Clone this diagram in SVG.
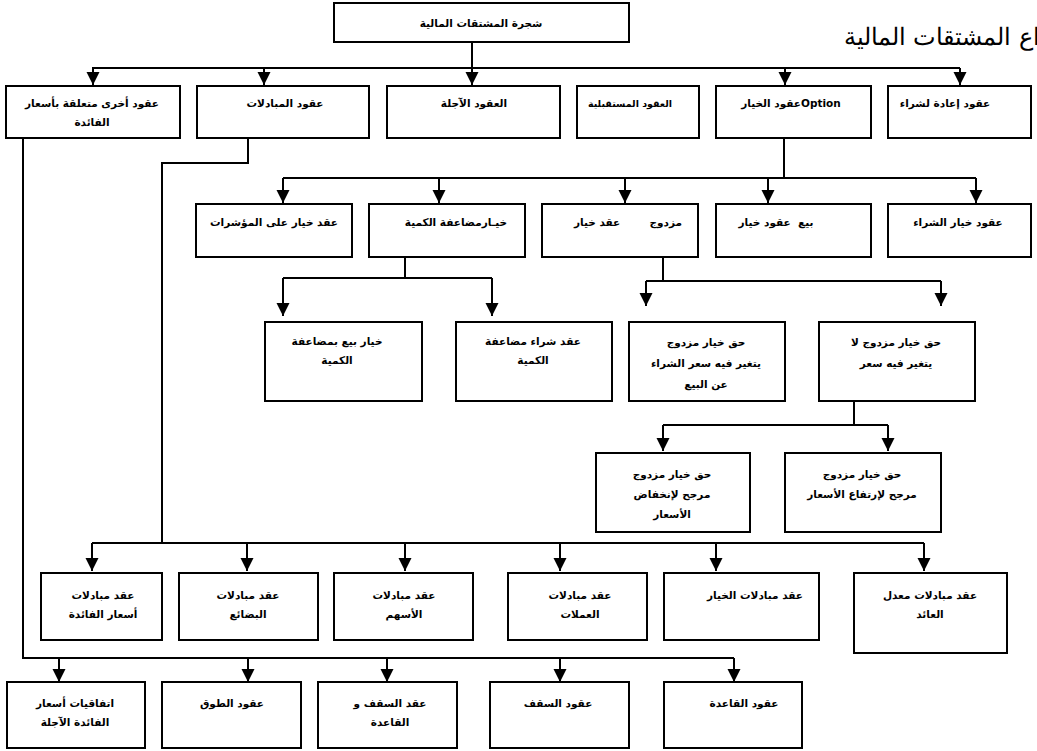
<svg xmlns="http://www.w3.org/2000/svg" width="1037" height="751" viewBox="0 0 1037 751">
<defs>
<marker id="ah" viewBox="0 0 10 10" markerUnits="userSpaceOnUse" markerWidth="13" markerHeight="14" refX="10" refY="5" orient="auto"><path d="M0,0 L10,5 L0,10 z" fill="#000"/></marker>
<style>
.b{fill:#fff;stroke:#000;stroke-width:2}
.t{font-family:"DejaVu Sans","Noto Sans",sans-serif;font-weight:bold;font-size:10.5px;fill:#000;text-anchor:middle;direction:rtl;unicode-bidi:embed}
.c{fill:none;stroke:#000;stroke-width:2}
.a{fill:none;stroke:#000;stroke-width:2;marker-end:url(#ah)}
.h{font-family:"DejaVu Serif","Liberation Serif",serif;font-size:24px;fill:#000;direction:rtl;unicode-bidi:embed}
</style>
</defs>
<rect width="1037" height="751" fill="#fff"/>
<text class="h" x="1066" y="45" text-anchor="start">أنواع المشتقات المالية</text>
<g id="connectors">
<path class="c" d="M92,68 H960"/>
<path class="a" d="M472,42 V85"/>
<path class="a" d="M93,68 V85"/>
<path class="a" d="M264,68 V85"/>
<path class="a" d="M785,68 V85"/>
<path class="a" d="M960,68 V85"/>
<path class="c" d="M784,137 V178 M283,178 H976"/>
<path class="a" d="M283,178 V203"/>
<path class="a" d="M439,178 V203"/>
<path class="a" d="M625,178 V203"/>
<path class="a" d="M768,178 V203"/>
<path class="a" d="M976,178 V203"/>
<path class="c" d="M405,257 V278 M283,278 H492"/>
<path class="a" d="M283,278 V316"/>
<path class="a" d="M492,278 V316"/>
<path class="c" d="M663,257 V281 M646,281 H941"/>
<path class="a" d="M646,281 V306"/>
<path class="a" d="M941,281 V306"/>
<path class="c" d="M854,401 V425 M663,425 H888"/>
<path class="a" d="M663,425 V451"/>
<path class="a" d="M888,425 V451"/>
<path class="c" d="M248,138 V163 H162 V543 M92,543 H924"/>
<path class="a" d="M92,543 V571"/>
<path class="a" d="M247,543 V571"/>
<path class="a" d="M405,543 V571"/>
<path class="a" d="M560,543 V571"/>
<path class="a" d="M716,543 V571"/>
<path class="a" d="M924,543 V571"/>
<path class="c" d="M23,138 V658 H734"/>
<path class="a" d="M59,658 V682"/>
<path class="a" d="M248,658 V682"/>
<path class="a" d="M387,658 V682"/>
<path class="a" d="M560,658 V682"/>
<path class="a" d="M734,658 V682"/>
</g>
<g id="root"><rect class="b" x="334" y="3" width="295" height="39"/><text class="t" x="481" y="27">شجرة المشتقات المالية</text></g>
<g id="n-other"><rect class="b" x="6" y="86" width="174" height="52"/><text class="t" x="92" y="107">عقود أخرى متعلقة بأسعار</text><text class="t" x="92" y="126">الفائدة</text></g>
<g id="n-swaps"><rect class="b" x="197" y="86" width="172" height="52"/><text class="t" x="285" y="107">عقود المبادلات</text></g>
<g id="n-forward"><rect class="b" x="387" y="86" width="173" height="52"/><text class="t" x="474" y="107">العقود الآجلة</text></g>
<g id="n-futures"><rect class="b" x="577" y="86" width="122" height="52"/><text class="t" x="630" y="107" style="font-size:9.5px">العقود المستقبلية</text></g>
<g id="n-option"><rect class="b" x="716" y="86" width="155" height="52"/><text class="t" x="791" y="107">Optionعقود الخيار</text></g>
<g id="n-repo"><rect class="b" x="888" y="86" width="143" height="52"/><text class="t" x="945" y="107">عقود إعادة لشراء</text></g>
<g id="n-index"><rect class="b" x="196" y="204" width="156" height="53"/><text class="t" x="274" y="226">عقد خيار على المؤشرات</text></g>
<g id="n-mult"><rect class="b" x="369" y="204" width="156" height="53"/><text class="t" x="456" y="226">خيـارمضاعفة الكمية</text></g>
<g id="n-double"><rect class="b" x="542" y="204" width="156" height="53"/><text class="t" x="628" y="226" xml:space="preserve">مزدوج        عقد خيار</text></g>
<g id="n-put"><rect class="b" x="716" y="204" width="155" height="53"/><text class="t" x="776" y="226" xml:space="preserve">بيع  عقود خيار</text></g>
<g id="n-call"><rect class="b" x="888" y="204" width="143" height="53"/><text class="t" x="958" y="226">عقود خيار الشراء</text></g>
<g id="n-multput"><rect class="b" x="265" y="322" width="157" height="79"/><text class="t" x="337" y="345">خيار بيع بمضاعفة</text><text class="t" x="337" y="364">الكمية</text></g>
<g id="n-multcall"><rect class="b" x="456" y="322" width="156" height="79"/><text class="t" x="533" y="345">عقد شراء مضاعفة</text><text class="t" x="533" y="364">الكمية</text></g>
<g id="n-dvar"><rect class="b" x="629" y="322" width="156" height="79"/><text class="t" x="706" y="346">حق خيار مزدوج</text><text class="t" x="706" y="367">يتغير فيه سعر الشراء</text><text class="t" x="706" y="388">عن البيع</text></g>
<g id="n-dfix"><rect class="b" x="819" y="322" width="156" height="79"/><text class="t" x="896" y="346">حق خيار مزدوج لا</text><text class="t" x="896" y="367">يتغير فيه سعر</text></g>
<g id="n-ddown"><rect class="b" x="596" y="453" width="154" height="79"/><text class="t" x="672" y="478">حق خيار مزدوج</text><text class="t" x="672" y="498">مرجح لإنخفاض</text><text class="t" x="672" y="518">الأسعار</text></g>
<g id="n-dup"><rect class="b" x="785" y="453" width="156" height="79"/><text class="t" x="862" y="478">حق خيار مزدوج</text><text class="t" x="862" y="498">مرجح لإرتفاع الأسعار</text></g>
<g id="n-irs"><rect class="b" x="41" y="573" width="121" height="67"/><text class="t" x="103" y="599">عقد مبادلات</text><text class="t" x="103" y="618">أسعار الفائدة</text></g>
<g id="n-comm"><rect class="b" x="179" y="573" width="139" height="67"/><text class="t" x="248" y="599">عقد مبادلات</text><text class="t" x="248" y="618">البضائع</text></g>
<g id="n-eq"><rect class="b" x="334" y="573" width="139" height="67"/><text class="t" x="404" y="599">عقد مبادلات</text><text class="t" x="404" y="618">الأسهم</text></g>
<g id="n-cur"><rect class="b" x="508" y="573" width="139" height="67"/><text class="t" x="580" y="599">عقد مبادلات</text><text class="t" x="580" y="618">العملات</text></g>
<g id="n-swopt"><rect class="b" x="664" y="573" width="155" height="67"/><text class="t" x="755" y="599">عقد مبادلات الخيار</text></g>
<g id="n-trs"><rect class="b" x="854" y="573" width="153" height="80"/><text class="t" x="930" y="599">عقد مبادلات معدل</text><text class="t" x="930" y="618">العائد</text></g>
<g id="n-fra"><rect class="b" x="7" y="682" width="138" height="66"/><text class="t" x="75" y="707">اتفاقيات أسعار</text><text class="t" x="75" y="726">الفائدة الآجلة</text></g>
<g id="n-collar"><rect class="b" x="162" y="682" width="139" height="66"/><text class="t" x="232" y="707">عقود الطوق</text></g>
<g id="n-capfloor"><rect class="b" x="318" y="682" width="139" height="66"/><text class="t" x="390" y="707">عقد السقف و</text><text class="t" x="390" y="726">القاعدة</text></g>
<g id="n-cap"><rect class="b" x="490" y="682" width="139" height="66"/><text class="t" x="558" y="707">عقود السقف</text></g>
<g id="n-floor"><rect class="b" x="664" y="682" width="138" height="66"/><text class="t" x="744" y="707">عقود القاعدة</text></g>
</svg>
